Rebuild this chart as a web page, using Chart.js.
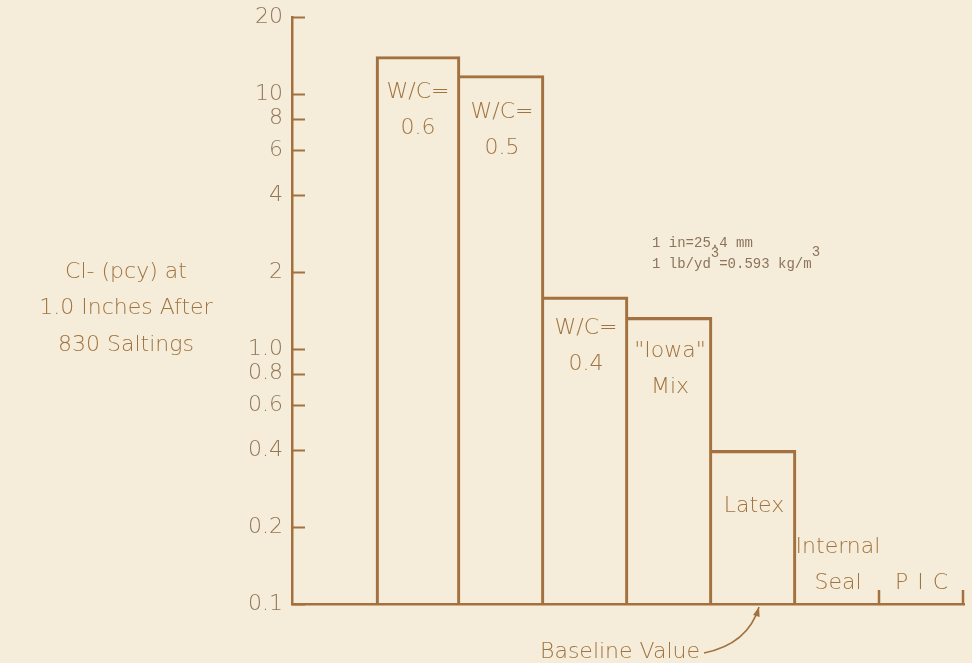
<!DOCTYPE html>
<html>
<head>
<meta charset="utf-8">
<script src="https://cdn.jsdelivr.net/npm/chart.js@4/dist/chart.umd.min.js"></script>
<style>
  html, body { margin: 0; padding: 0; background: #f5edda; }
  #wrap { width: 972px; height: 663px; position: relative; }
</style>
</head>
<body>
<div id="wrap"><canvas id="c" width="972" height="663"></canvas></div>
<script>
// Chloride content at 1.0 in. depth after 830 saltings, by concrete type
const CATEGORIES = ['', 'W/C=0.6', 'W/C=0.5', 'W/C=0.4', '"Iowa" Mix', 'Latex', 'Internal Seal', 'PIC'];
const CHLORIDE = [null, 14, 11.8, 1.6, 1.33, 0.4, 0.1, 0.1];
const BAR_LABELS = [[], ['W/C=', '0.6'], ['W/C=', '0.5'], ['W/C=', '0.4'], ['"Iowa"', 'Mix'], ['Latex'], ['Internal', 'Seal'], ['PIC']];
const Y_TICKS = [0.1, 0.2, 0.4, 0.6, 0.8, 1, 2, 4, 6, 8, 10, 20];
const Y_TICK_LABELS = ['0.1', '0.2', '0.4', '0.6', '0.8', '1.0', '2', '4', '6', '8', '10', '20'];
const Y_TITLE = ['Cl- (pcy) at', '1.0 Inches After', '830 Saltings'];
const UNIT_NOTE = ['1 in=25.4 mm', '1 lb/yd', '3', '=0.593 kg/m', '3'];
const BASELINE_NOTE = 'Baseline Value';

const Y_MIN = Y_TICKS[0];
const Y_MAX = Y_TICKS[Y_TICKS.length - 1];

const INK = '#a3713f';
const TEXT = '#a0733f';
const TICK_TEXT = '#927658';
const LINE_W = 2.5;
const FONT = '"DejaVu Sans", sans-serif';

// First line of each bar's lettering, measured down from the bar top
const LABEL_DROP = [0, 36, 37, 31, 34, 56];
const LINE_GAP = 36;

const annotations = {
  id: 'annotations',
  afterDatasetsDraw(chart) {
    const ctx = chart.ctx;
    const area = chart.chartArea;
    const y = chart.scales.y;
    const meta = chart.getDatasetMeta(0);
    const base = y.getPixelForValue(Y_MIN);
    ctx.save();

    // inward tick marks on the value axis
    ctx.strokeStyle = INK;
    ctx.lineWidth = 2;
    Y_TICKS.forEach(v => {
      const py = Math.round(y.getPixelForValue(v)) + 0.5;
      ctx.beginPath();
      ctx.moveTo(area.left, py);
      ctx.lineTo(area.left + 13, py);
      ctx.stroke();
    });

    // lettering on each bar
    ctx.fillStyle = TEXT;
    ctx.textAlign = 'center';
    ctx.textBaseline = 'middle';
    ctx.font = '200 22px ' + FONT;
    meta.data.forEach((bar, i) => {
      const lines = BAR_LABELS[i];
      if (!lines.length) return;
      const v = CHLORIDE[i];
      if (v > Y_MIN) {
        lines.forEach((t, k) => ctx.fillText(t, bar.x, bar.y + LABEL_DROP[i] + k * LINE_GAP));
      } else {
        const n = lines.length;
        lines.forEach((t, k) => {
          ctx.save();
          if (t === 'PIC') ctx.letterSpacing = '9px';
          ctx.fillText(t, bar.x + (t === 'PIC' ? 4 : 0), base - 21 - (n - 1 - k) * LINE_GAP);
          ctx.restore();
        });
        // small end marks bracketing the baseline groups
        const xr = bar.x + bar.width / 2 - 1;
        ctx.beginPath();
        ctx.lineWidth = LINE_W;
        ctx.moveTo(xr, base);
        ctx.lineTo(xr, base - 14);
        ctx.stroke();
      }
    });

    // axis title, set horizontally to the left of the axis
    ctx.font = '200 22px ' + FONT;
    Y_TITLE.forEach((t, k) => ctx.fillText(t, 126, 272 + k * 36.5));

    // unit conversion note
    ctx.font = '14px "Liberation Mono", monospace';
    ctx.textAlign = 'left';
    ctx.textBaseline = 'alphabetic';
    ctx.fillStyle = '#8c735c';
    const nx = area.left + 360, ny = 247;
    ctx.fillText(UNIT_NOTE[0], nx, ny);
    let x = nx;
    ctx.fillText(UNIT_NOTE[1], x, ny + 21); x += ctx.measureText(UNIT_NOTE[1]).width;
    ctx.fillText(UNIT_NOTE[2], x, ny + 10); x += ctx.measureText(UNIT_NOTE[2]).width;
    ctx.fillText(UNIT_NOTE[3], x, ny + 21); x += ctx.measureText(UNIT_NOTE[3]).width;
    ctx.fillText(UNIT_NOTE[4], x, ny + 9);

    // baseline callout pointing to the base under the Latex bar
    const latex = meta.data[5];
    const tx = latex.x - 54;
    ctx.font = '200 22px ' + FONT;
    ctx.fillStyle = TEXT;
    ctx.textAlign = 'right';
    ctx.textBaseline = 'middle';
    ctx.fillText(BASELINE_NOTE, tx, base + 48);
    const sx = tx + 4, sy = base + 49;
    const ex = latex.x + 5, ey = base + 3;
    const cx = latex.x - 6, cy = base + 40;
    ctx.strokeStyle = INK;
    ctx.lineWidth = 1.6;
    ctx.beginPath();
    ctx.moveTo(sx, sy);
    ctx.quadraticCurveTo(cx, cy, ex, ey);
    ctx.stroke();
    // arrow head along the end tangent
    const ang = Math.atan2(ey - cy, ex - cx);
    const L = 10, spread = 0.35;
    ctx.fillStyle = INK;
    ctx.beginPath();
    ctx.moveTo(ex, ey);
    ctx.lineTo(ex - L * Math.cos(ang - spread), ey - L * Math.sin(ang - spread));
    ctx.lineTo(ex - L * Math.cos(ang + spread), ey - L * Math.sin(ang + spread));
    ctx.closePath();
    ctx.fill();
    ctx.restore();
  }
};

new Chart(document.getElementById('c'), {
  type: 'bar',
  data: {
    labels: CATEGORIES,
    datasets: [{
      data: CHLORIDE,
      backgroundColor: 'rgba(0,0,0,0)',
      borderColor: INK,
      borderSkipped: false,
      borderWidth: (c) => {
        const i = c.dataIndex;
        const v = CHLORIDE[i];
        if (v == null || v <= Y_MIN) return 0;
        const prev = CHLORIDE[i - 1];
        return { top: LINE_W, right: LINE_W, bottom: 0, left: (prev == null || prev < v) ? LINE_W : 0 };
      },
      categoryPercentage: 1,
      barPercentage: 1
    }]
  },
  options: {
    responsive: false,
    animation: false,
    events: [],
    layout: { padding: { top: 17, left: 0, right: 8, bottom: 59 } },
    plugins: { legend: { display: false }, tooltip: { enabled: false } },
    scales: {
      x: {
        type: 'category',
        ticks: { display: false },
        grid: { display: false },
        border: { display: true, color: INK, width: LINE_W },
        afterFit: (s) => { s.height = 0; }
      },
      y: {
        type: 'logarithmic',
        min: Y_MIN,
        max: Y_MAX,
        grid: { display: false, drawTicks: false },
        border: { display: true, color: INK, width: LINE_W },
        ticks: {
          color: TICK_TEXT,
          padding: 9,
          autoSkip: false,
          font: { family: FONT, size: 22, weight: 200 },
          callback: (v) => {
            const k = Y_TICKS.findIndex(t => Math.abs(t - v) < 1e-9);
            return k >= 0 ? Y_TICK_LABELS[k] : '';
          }
        },
        afterBuildTicks: (s) => { s.ticks = Y_TICKS.map(v => ({ value: v })); },
        afterFit: (s) => { s.width = 292; s.paddingTop = 0; s.paddingBottom = 0; }
      }
    }
  },
  plugins: [annotations]
});
</script>
</body>
</html>
